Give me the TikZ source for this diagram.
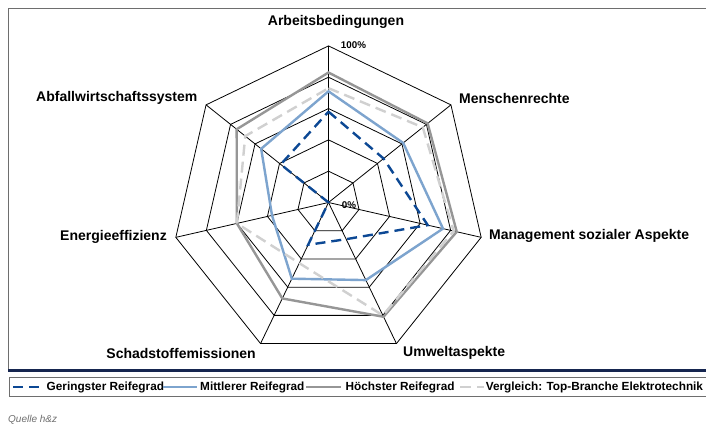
\documentclass[tikz,border=0pt]{standalone}
\usepackage{fontspec}
\setmainfont{Liberation Sans}
\usetikzlibrary{arrows.meta}

\definecolor{cLow}{RGB}{12,72,148}
\definecolor{cMid}{RGB}{125,164,206}
\definecolor{cHigh}{RGB}{150,150,150}
\definecolor{cRef}{RGB}{208,208,208}
\definecolor{navyline}{RGB}{22,38,80}
\definecolor{framegray}{RGB}{110,110,110}
\newcommand{\netR}{156.6}

\begin{document}
\begin{tikzpicture}[x=1pt, y=1pt,
  ring/.style={draw=black, line width=0.8pt},
  lbl/.style={font=\fontsize{14}{16}\selectfont\bfseries, inner sep=0pt},
  pct/.style={font=\fontsize{9.8}{11}\selectfont\bfseries, inner sep=0pt},
  leg/.style={font=\fontsize{11.8}{13}\selectfont\bfseries, inner sep=0pt, anchor=west},
  geringster/.style={draw=cLow, line width=2.4pt, dash pattern=on 10pt off 6pt},
  mittlerer/.style={draw=cMid, line width=2.4pt},
  hoechster/.style={draw=cHigh, line width=2.4pt},
  vergleich/.style={draw=cRef, line width=2.4pt, dash pattern=on 11pt off 6pt}]

% ---------- page and frame ----------
\useasboundingbox (-328.5,-225.5) rectangle (377.5,202.5);
\fill[white] (-328.5,-225.5) rectangle (377.5,202.5);
\draw[framegray, line width=0.8pt] (377.5,194.5) -- (-320,194.5) -- (-320,-166);
\draw[navyline, line width=3pt] (-320,-167.5) -- (377.5,-167.5);

% ---------- net: rings and axes ----------
\foreach \f in {0.2,0.4,0.6,0.8,1.0}
  \draw[ring] (90:{\f*\netR}) \foreach \k in {1,...,6}{ -- ({90-\k*360/7}:{\f*\netR}) } -- cycle;
\foreach \k in {0,...,6}
  \coordinate (a\k) at ({90-\k*360/7}:\netR);
\coordinate (ctr) at (0,0);
\foreach \k in {0,...,6}
  \draw[ring] (ctr) -- (a\k);

% ---------- series (Arbeitsbedingungen first, clockwise) ----------
\draw[geringster] (90:{0.58*\netR}) \foreach \v [count=\k] in {0.45,0.65,0.26,0.30,0.0,0.39}{ -- ({90-\k*360/7}:{\v*\netR}) } -- cycle;
\draw[mittlerer] (90:{0.71*\netR}) \foreach \v [count=\k] in {0.61,0.75,0.55,0.54,0.37,0.55}{ -- ({90-\k*360/7}:{\v*\netR}) } -- cycle;
\draw[hoechster] (90:{0.83*\netR}) \foreach \v [count=\k] in {0.81,0.84,0.81,0.68,0.60,0.75}{ -- ({90-\k*360/7}:{\v*\netR}) } -- cycle;
\draw[vergleich] (90:{0.73*\netR}) \foreach \v [count=\k] in {0.77,0.82,0.80,0.43,0.60,0.68}{ -- ({90-\k*360/7}:{\v*\netR}) } -- cycle;

% ---------- scale and axis labels ----------
\node[pct] (p100) at (25,157.5) {100\%};
\node[pct] (p0)   at (20.5,-2.5) {0\%};
\node[lbl] (lArbeit) at (7.5,180.5) {Arbeitsbedingungen};
\node[lbl, anchor=west] (lMensch)  at (130.5,104.5)  {Menschenrechte};
\node[lbl, anchor=west] (lMgmt)    at (160.5,-33.5)  {Management sozialer Aspekte};
\node[lbl, anchor=west] (lUmwelt)  at (74.5,-150.5)  {Umweltaspekte};
\node[lbl, anchor=east] (lSchad)   at (-72.5,-150.5) {Schadstoffemissionen};
\node[lbl, anchor=east] (lEnergie) at (-161.5,-34.5) {Energieeffizienz};
\node[lbl, anchor=east] (lAbfall)  at (-131,104.5)   {Abfallwirtschaftssystem};

% ---------- legend ----------
\draw[framegray, line width=0.8pt] (377.5,-175) -- (-319.5,-175) -- (-319.5,-194) -- (377.5,-194);
\draw[geringster] (-315,-184.5) -- (-285.7,-184.5);
\node[leg] (legLow) at (-282,-184.5) {Geringster Reifegrad};
\draw[mittlerer] (-165,-184.5) -- (-131.7,-184.5);
\node[leg] (legMid) at (-128.5,-184.5) {Mittlerer Reifegrad};
\draw[hoechster] (-22.5,-184.5) -- (12.5,-184.5);
\node[leg] (legHigh) at (17,-184.5) {Höchster Reifegrad};
\draw[vergleich] (131.5,-184.5) -- (155.5,-184.5);
\node[leg] (legRef) at (157.1,-184.5) {Vergleich: Top-Branche Elektrotechnik};

% ---------- source ----------
\node[font=\fontsize{10}{12}\selectfont\itshape, text=framegray, anchor=west, inner sep=0pt] (quelle) at (-320.5,-217.5) {Quelle h\&z};

\end{tikzpicture}
\end{document}
